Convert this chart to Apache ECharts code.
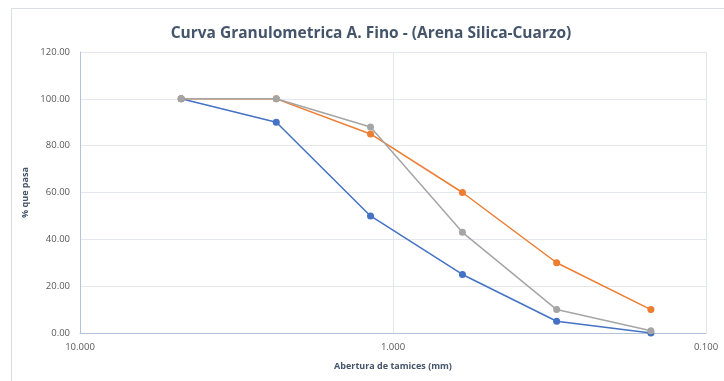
<!DOCTYPE html>
<html>
<head>
<meta charset="utf-8">
<script src="https://cdn.jsdelivr.net/npm/echarts@6/dist/echarts.min.js"></script>
<style>
html,body{margin:0;padding:0;background:#fff;}
#chart{width:724px;height:381px;}
</style>
</head>
<body>
<div id="chart"></div>
<script>
const sieveSizes = [4.75, 2.36, 1.18, 0.6, 0.3, 0.15];
const serieA = [100, 90, 50, 25, 5, 0];
const serieB = [100, 100, 85, 60, 30, 10];
const serieC = [100, 100, 88, 43, 10, 1];
const seriesNames = ['Serie 1', 'Serie 2', 'Serie 3'];
const seriesColors = ['#4472c4', '#ed7d31', '#a5a5a5'];
const titleText = 'Curva Granulometrica A. Fino - (Arena Silica-Cuarzo)';
const xName = 'Abertura de tamices (mm)';
const yName = '% que pasa';

const chart = echarts.init(document.getElementById('chart'), null, {renderer: 'canvas'});
const allSeries = [serieA, serieB, serieC].map((vals, i) => ({
  name: seriesNames[i],
  type: 'line',
  data: sieveSizes.map((s, j) => [s, vals[j]]),
  symbol: 'circle',
  symbolSize: 7,
  lineStyle: {width: 1.5, color: seriesColors[i]},
  itemStyle: {color: seriesColors[i]},
  z: 2 + i
}));

chart.setOption({
  animation: false,
  backgroundColor: '#fff',
  graphic: [{
    type: 'rect',
    shape: {x: 11.5, y: 8.5, width: 760, height: 420},
    style: {fill: 'none', stroke: '#d9dce3', lineWidth: 1},
    silent: true
  }],
  title: {
    text: titleText,
    left: 366, top: 21, textAlign: 'center',
    textStyle: {fontFamily: 'Open Sans', fontSize: 15.5, fontWeight: 'bold', color: '#44546a'}
  },
  grid: {left: 80, right: 18, top: 52, bottom: 48},
  xAxis: {
    type: 'log', logBase: 10, min: 0.1, max: 10, inverse: true,
    name: xName, nameLocation: 'middle', nameGap: 29,
    nameTextStyle: {fontFamily: 'Open Sans', fontSize: 9, fontWeight: 'bold', color: '#44546a'},
    axisLine: {show: true, lineStyle: {color: '#b4c2dc', width: 1}},
    axisTick: {show: false},
    minorTick: {show: false},
    axisLabel: {formatter: v => Number(v).toFixed(3), fontFamily: 'Open Sans', fontSize: 9.5, color: '#595959', margin: 9},
    splitLine: {show: true, lineStyle: {color: '#e3e6ec', width: 1}}
  },
  yAxis: {
    type: 'value', min: 0, max: 120, interval: 20,
    name: yName, nameLocation: 'middle', nameGap: 41, nameRotate: 90,
    nameTextStyle: {fontFamily: 'Open Sans', fontSize: 9, fontWeight: 'bold', color: '#44546a'},
    axisLine: {show: true, lineStyle: {color: '#b4c2dc', width: 1}},
    axisTick: {show: false},
    axisLabel: {formatter: v => v.toFixed(2), fontFamily: 'Open Sans', fontSize: 9.5, color: '#595959', margin: 10},
    splitLine: {show: true, lineStyle: {color: '#e3e6ec', width: 1}}
  },
  series: allSeries
});
</script>
</body>
</html>
